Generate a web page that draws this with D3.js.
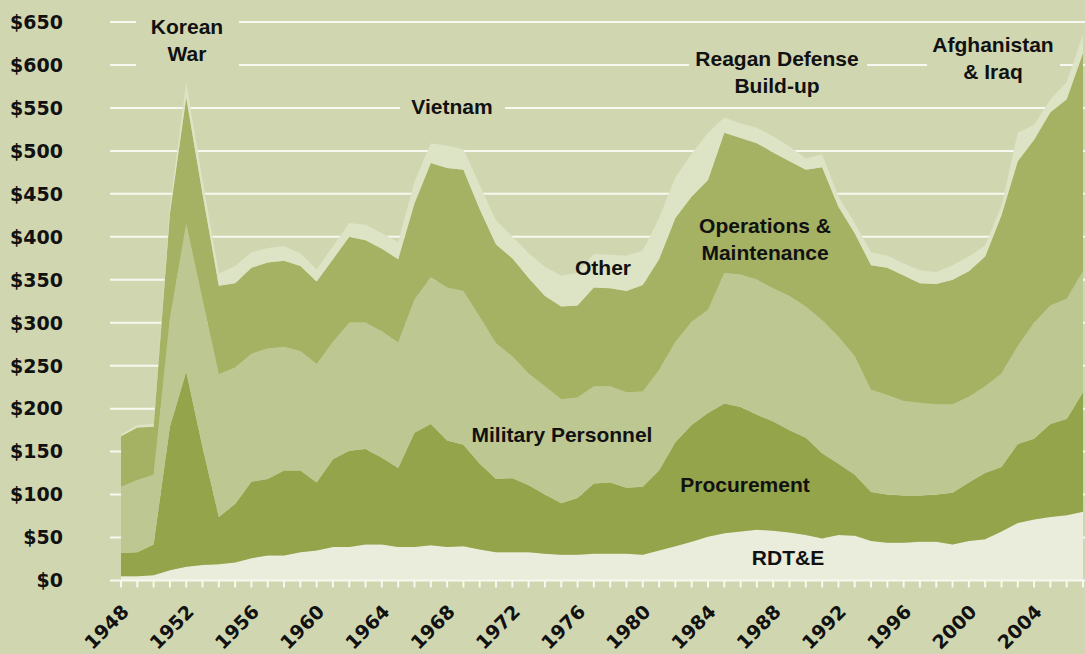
<!DOCTYPE html>
<html>
<head>
<meta charset="utf-8">
<script src="https://cdn.jsdelivr.net/npm/d3@7/dist/d3.min.js"></script>
<style>
    body { margin: 0; background: #d0d7b0; }
    svg { display: block; }
</style>
</head>
<body>
<div id="chart"></div>
<script>

// Defense outlays by category, billions of dollars
const years = [1948, 1949, 1950, 1951, 1952, 1953, 1954, 1955, 1956, 1957, 1958, 1959,
    1960, 1961, 1962, 1963, 1964, 1965, 1966, 1967, 1968, 1969, 1970, 1971, 1972, 1973,
    1974, 1975, 1976, 1977, 1978, 1979, 1980, 1981, 1982, 1983, 1984, 1985, 1986, 1987,
    1988, 1989, 1990, 1991, 1992, 1993, 1994, 1995, 1996, 1997, 1998, 1999, 2000, 2001,
    2002, 2003, 2004, 2005, 2006, 2007];

const rdte = [5, 5, 6, 12, 16, 18, 19, 21, 26, 29, 29, 33,
    35, 39, 39, 42, 42, 39, 39, 41, 39, 40, 36, 33, 33, 33,
    31, 30, 30, 31, 31, 31, 30, 35, 40, 45, 51, 55, 57, 59,
    58, 56, 53, 49, 53, 52, 46, 44, 44, 45, 45, 42, 46, 48,
    57, 67, 71, 74, 76, 80];

const procurement = [27, 28, 36, 167, 227, 137, 55, 68, 89, 89, 99, 95,
    79, 102, 112, 111, 101, 92, 133, 141, 124, 118, 100, 85, 86, 78,
    69, 60, 66, 82, 83, 77, 79, 93, 121, 136, 144, 151, 145, 134,
    127, 119, 113, 99, 83, 71, 57, 56, 55, 54, 55, 60, 68, 77,
    75, 92, 94, 108, 112, 139];

const militaryPersonnel = [77, 84, 81, 126, 172, 172, 166, 159, 149, 152, 144, 139,
    138, 137, 149, 147, 147, 146, 155, 171, 178, 179, 171, 158, 142, 130,
    126, 121, 117, 113, 112, 111, 111, 117, 117, 120, 120, 152, 154, 157,
    155, 156, 153, 155, 148, 138, 119, 116, 110, 108, 105, 103, 100, 101,
    109, 114, 135, 138, 140, 141];

const operations = [59, 61, 56, 122, 147, 123, 103, 98, 100, 100, 100, 99,
    96, 96, 100, 96, 96, 97, 112, 133, 139, 141, 125, 115, 114, 111,
    105, 108, 107, 115, 114, 118, 124, 129, 144, 146, 151, 163, 159, 159,
    158, 157, 159, 178, 151, 143, 145, 148, 146, 139, 140, 145, 146, 151,
    184, 215, 213, 225, 232, 254];

const other = [2, 3, 3, 8, 18, 16, 14, 20, 18, 17, 17, 15,
    14, 15, 16, 18, 18, 20, 25, 23, 26, 24, 28, 28, 25, 29,
    34, 36, 38, 39, 39, 41, 40, 48, 47, 50, 55, 18, 17, 18,
    19, 17, 13, 15, 12, 12, 15, 14, 14, 15, 14, 17, 17, 13,
    11, 33, 17, 15, 20, 22];

const seriesKeys = ["RDT&E", "Procurement", "Military Personnel", "Operations & Maintenance", "Other"];
const yTicks = [0, 50, 100, 150, 200, 250, 300, 350, 400, 450, 500, 550, 600, 650];
const xLabelYears = [1948, 1952, 1956, 1960, 1964, 1968, 1972, 1976, 1980, 1984, 1988, 1992, 1996, 2000, 2004];

const eventLabels = [["Korean", "War"], ["Vietnam"], ["Reagan Defense", "Build-up"], ["Afghanistan", "& Iraq"]];


class SpendingArea {

    constructor(parentElement) {
        this.parentElement = parentElement;
        this.initVis();
    }

    initVis() {
        let vis = this;

        vis.width = 1085;
        vis.height = 654;

        vis.svg = d3.select("#" + vis.parentElement).append("svg")
            .attr("width", vis.width)
            .attr("height", vis.height);

        vis.svg.append("rect")
            .attr("width", vis.width)
            .attr("height", vis.height)
            .attr("fill", "#d0d7b0");

        vis.x = d3.scaleLinear()
            .domain([1948, 2007])
            .range([121, 1083]);

        vis.y = d3.scaleLinear()
            .domain([0, 650])
            .range([580.5, 22]);

        vis.colors = d3.scaleOrdinal()
            .domain(seriesKeys)
            .range(["#eaecdc", "#93a44b", "#bdc791", "#a5b263", "#dde3c5"]);

        vis.wrangleData();
    }

    wrangleData() {
        let vis = this;

        vis.displayData = years.map((yr, i) => ({
            year: yr,
            "RDT&E": rdte[i],
            "Procurement": procurement[i],
            "Military Personnel": militaryPersonnel[i],
            "Operations & Maintenance": operations[i],
            "Other": other[i]
        }));

        vis.stacked = d3.stack().keys(seriesKeys)(vis.displayData);

        vis.updateVis();
    }

    updateVis() {
        let vis = this;

        // gridlines
        vis.svg.append("g")
            .selectAll("line")
            .data(yTicks.filter(d => d > 0))
            .enter().append("line")
            .attr("x1", 110)
            .attr("x2", vis.width)
            .attr("y1", d => vis.y(d))
            .attr("y2", d => vis.y(d))
            .attr("stroke", "#f7f8ef")
            .attr("stroke-width", 2);

        // boxes that break the gridlines behind the event titles
        let boxes = [[136, 12, 103, 60], [400, 96, 105, 24], [689, 44, 178, 56], [927, 32, 133, 54]];
        vis.svg.append("g")
            .selectAll("rect")
            .data(boxes)
            .enter().append("rect")
            .attr("x", d => d[0])
            .attr("y", d => d[1])
            .attr("width", d => d[2])
            .attr("height", d => d[3])
            .attr("fill", "#d0d7b0");

        let area = d3.area()
            .x(d => vis.x(d.data.year))
            .y0(d => vis.y(d[0]))
            .y1(d => vis.y(d[1]));

        vis.svg.append("g")
            .selectAll("path")
            .data(vis.stacked)
            .enter().append("path")
            .attr("d", area)
            .attr("fill", d => vis.colors(d.key));

        // x axis
        let xAxis = vis.svg.append("g").attr("class", "x-axis");
        xAxis.append("line")
            .attr("x1", 110)
            .attr("x2", vis.width)
            .attr("y1", vis.y(0))
            .attr("y2", vis.y(0))
            .attr("stroke", "#f7f8ef")
            .attr("stroke-width", 2);

        xAxis.selectAll(".tick")
            .data(years)
            .enter().append("line")
            .attr("class", "tick")
            .attr("x1", d => vis.x(d))
            .attr("x2", d => vis.x(d))
            .attr("y1", vis.y(0))
            .attr("y2", vis.y(0) + 7)
            .attr("stroke", "#f7f8ef")
            .attr("stroke-width", 2);

        xAxis.selectAll(".year-label")
            .data(xLabelYears)
            .enter().append("text")
            .attr("class", "year-label")
            .attr("transform", d => "translate(" + (vis.x(d) + 9) + ",613) rotate(-45)")
            .attr("text-anchor", "end")
            .attr("font-family", "DejaVu Sans")
            .attr("font-weight", "bold")
            .attr("font-size", "19px")
            .attr("fill", "#111")
            .text(d => d);

        // y labels
        vis.svg.append("g")
            .selectAll("text")
            .data(yTicks)
            .enter().append("text")
            .attr("x", 63)
            .attr("y", d => vis.y(d))
            .attr("dy", "0.36em")
            .attr("text-anchor", "end")
            .attr("font-family", "DejaVu Sans")
            .attr("font-weight", "bold")
            .attr("font-size", "19px")
            .attr("fill", "#111")
            .text(d => "$" + d);

        // event titles and series names
        let eventPos = [[187, 34], [452, 114], [777, 66], [993, 52]];
        let seriesPos = [[788, 565], [745, 492], [562, 442], [765, 233], [603, 275]];
        let seriesLines = [["RDT&E"], ["Procurement"], ["Military Personnel"], ["Operations &", "Maintenance"], ["Other"]];

        let labels = eventLabels.map((lines, i) => ({lines: lines, pos: eventPos[i]}))
            .concat(seriesLines.map((lines, i) => ({lines: lines, pos: seriesPos[i]})));

        let texts = vis.svg.append("g")
            .selectAll("text")
            .data(labels)
            .enter().append("text")
            .attr("x", d => d.pos[0])
            .attr("y", d => d.pos[1])
            .attr("text-anchor", "middle")
            .attr("font-family", "Liberation Sans")
            .attr("font-weight", "bold")
            .attr("font-size", "21px")
            .attr("fill", "#111");

        texts.selectAll("tspan")
            .data(d => d.lines.map((t, j) => ({t: t, j: j, x: d.pos[0]})))
            .enter().append("tspan")
            .attr("x", d => d.x)
            .attr("dy", d => d.j === 0 ? 0 : 26.5)
            .text(d => d.t);
    }
}

new SpendingArea("chart");

</script>
</body>
</html>
